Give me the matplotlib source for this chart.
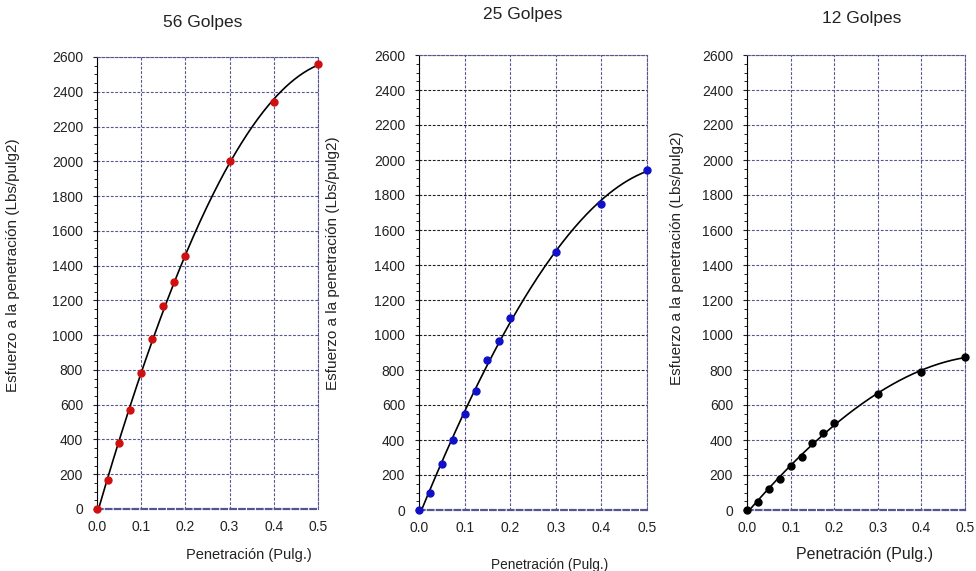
import numpy as np
import matplotlib
matplotlib.use("Agg")
import matplotlib.pyplot as plt
from matplotlib.ticker import MultipleLocator, FormatStrFormatter

plt.rcParams['font.family'] = ['Liberation Sans', 'DejaVu Sans']

# penetration (in) and stress (Lbs/pulg2)
penetracion = [0.0, 0.025, 0.05, 0.075, 0.1, 0.125, 0.15, 0.175, 0.2, 0.3, 0.4, 0.5]
esfuerzo_56 = [0, 165, 380, 570, 780, 980, 1165, 1305, 1455, 2000, 2340, 2560]
esfuerzo_25 = [0, 100, 265, 400, 550, 680, 855, 965, 1100, 1475, 1750, 1945]
esfuerzo_12 = [0, 45, 120, 180, 250, 305, 385, 440, 495, 665, 790, 875]

titulos = ["56 Golpes", "25 Golpes", "12 Golpes"]
colores = ["#d01010", "#1010c8", "#000000"]
series = [esfuerzo_56, esfuerzo_25, esfuerzo_12]

fig = plt.figure(figsize=(9.76, 5.71), dpi=100)
W, H = 976, 571
boxes = [(97, 57, 318, 509), (419, 55, 647, 510), (747, 55, 965, 510)]
titulo_xy = [(203, 22), (523, 15), (862, 18)]
ylab_xy = [(-0.348, 0.54), (-0.346, 0.543), (-0.29, 0.554)]
xlab_xy = [(0.688, -0.086), (0.575, -0.105), (0.54, -0.081)]
xlab_size = [10.5, 9.8, 11.5]
hgrid = ["#55558f", "#202020", "#55558f"]
navy = "#55558f"

for k in range(3):
    l, t, r, b = boxes[k]
    ax = fig.add_axes([l / W, 1 - b / H, (r - l) / W, (b - t) / H])
    x = np.array(penetracion)
    y = np.array(series[k])
    coef = np.polyfit(x, y, 3)
    xs = np.linspace(0, 0.5, 200)
    ax.plot(xs, np.polyval(coef, xs), color="black", lw=1.2, zorder=3)
    ax.plot(x, y, "o", color=colores[k], ms=5, zorder=4, clip_on=False)
    ax.set_xlim(0, 0.5)
    ax.set_ylim(0, 2600)
    ax.xaxis.set_major_locator(MultipleLocator(0.1))
    ax.yaxis.set_major_locator(MultipleLocator(200))
    ax.yaxis.set_minor_locator(MultipleLocator(50))
    ax.xaxis.set_major_formatter(FormatStrFormatter("%.1f"))
    ax.xaxis.grid(True, color=navy, ls=(0, (2.5, 1.5)), lw=0.8)
    ax.yaxis.grid(True, color=hgrid[k], ls=(0, (2.5, 1.5)), lw=0.8)
    ax.tick_params(axis="both", labelsize=10, colors="#222222")
    ax.tick_params(axis="x", length=0, pad=8)
    ax.tick_params(axis="y", which="major", length=3, pad=7)
    ax.tick_params(axis="y", which="minor", length=2)
    ax.spines["left"].set_color("black")
    for s in ["top", "right", "bottom"]:
        ax.spines[s].set_color(navy)
        ax.spines[s].set_linestyle((0, (2.5, 1.5)))
        ax.spines[s].set_linewidth(0.8)
    ax.spines["bottom"].set_linewidth(1.6)
    ax.set_ylabel("Esfuerzo a la penetración (Lbs/pulg2)", fontsize=11, color="#222222")
    ax.yaxis.set_label_coords(ylab_xy[k][0], ylab_xy[k][1])
    ax.set_xlabel("Penetración (Pulg.)", fontsize=xlab_size[k], color="#222222")
    ax.xaxis.set_label_coords(xlab_xy[k][0], xlab_xy[k][1])
    fig.text(titulo_xy[k][0] / W, 1 - titulo_xy[k][1] / H, titulos[k], fontsize=12.5,
             ha="center", va="center", color="#222222")

fig.savefig("out.png", dpi=100, facecolor="white")
